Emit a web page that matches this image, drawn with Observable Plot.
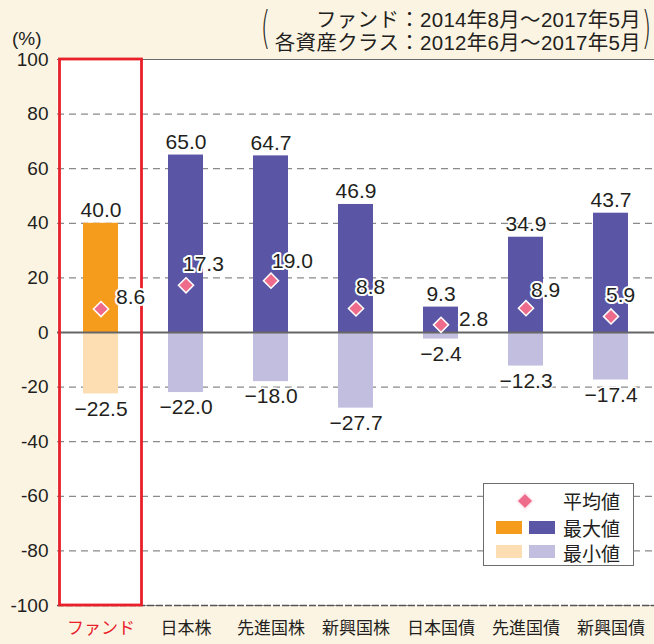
<!DOCTYPE html>
<html>
<head>
<meta charset="utf-8">
<script src="https://cdn.jsdelivr.net/npm/d3@7"></script>
<script src="https://cdn.jsdelivr.net/npm/@observablehq/plot@0.6"></script>
<style>
  html, body { margin: 0; padding: 0; background: #fcf4e3; }
  #wrap { position: relative; width: 654px; height: 644px; background: #fcf4e3; overflow: hidden;
          font-family: "Liberation Sans", "Noto Sans CJK JP", sans-serif; color: #231f20; }
  #title { position: absolute; right: 13px; top: 8px; text-align: right; font-size: 20.5px; line-height: 23px; white-space: nowrap; letter-spacing: 0.3px; }
  .paren { position: absolute; top: 5px; font-size: 44px; line-height: 46px; height: 46px; font-weight: 200; transform: scaleX(0.55); color: #231f20; font-family: "DejaVu Sans", sans-serif; }
  #legend { position: absolute; left: 483px; top: 483px; width: 151px; height: 83px; background: #fff;
            border: 1px solid #6d6d6d; box-sizing: border-box; font-family: "Noto Sans CJK JP", sans-serif; font-size: 19px; }
  .sw { position: absolute; width: 26px; height: 13px; }
  .lt { position: absolute; left: 79px; line-height: 20px; height: 20px; }
  .dia { position: absolute; width: 10px; height: 10px; background: #ef6b8c; transform: rotate(45deg); border: 1px solid #fff; }
  #pct { position: absolute; left: 12px; top: 28px; font-size: 19px; }
</style>
</head>
<body>
<div id="wrap">
  <div id="pct">(%)</div>
  <div class="paren" style="left:257px;">(</div>
  <div class="paren" style="left:638px;">)</div>
  <div id="title">ファンド：2014年8月～2017年5月<br>各資産クラス：2012年6月～2017年5月</div>
  <div id="chart"></div>
  <div id="legend">
    <div class="dia" style="left:35px; top:11px;"></div>
    <div class="lt" style="top:7px;">平均値</div>
    <div class="sw" style="left:12px; top:37px; background:#f59c1c;"></div>
    <div class="sw" style="left:45px; top:37px; background:#5a56a5;"></div>
    <div class="lt" style="top:34px;">最大値</div>
    <div class="sw" style="left:12px; top:61px; background:#fddeb3;"></div>
    <div class="sw" style="left:45px; top:61px; background:#c2bedf;"></div>
    <div class="lt" style="top:59px;">最小値</div>
  </div>
</div>
<script>
// ---- data ----
const categories = ["ファンド", "日本株", "先進国株", "新興国株", "日本国債", "先進国債", "新興国債"];
const maxValues  = [40.0, 65.0, 64.7, 46.9, 9.3, 34.9, 43.7];
const meanValues = [8.6, 17.3, 19.0, 8.8, 2.8, 8.9, 5.9];
const minValues  = [-22.5, -22.0, -18.0, -27.7, -2.4, -12.3, -17.4];
const yTicks = [100, 80, 60, 40, 20, 0, -20, -40, -60, -80, -100];
const fundName = "ファンド";

// ---- label layout (offsets of mean labels, px) ----
const meanLabelOffset = {
  "ファンド": [15, -12], "日本株": [-3, -21], "先進国株": [1, -19], "新興国株": [0, -21],
  "日本国債": [18, -6], "先進国債": [5, -18], "新興国債": [-5, -21]
};

const rows = categories.map((c, i) => ({cat: c, max: maxValues[i], mean: meanValues[i], min: minValues[i], fund: c === fundName}));
const fund = rows.filter(d => d.fund);
const others = rows.filter(d => !d.fund);

const fmt = v => (v < 0 ? "\u2212" + Math.abs(v).toFixed(1) : v.toFixed(1));
const numFont = "Liberation Sans, Noto Sans CJK JP, sans-serif";
const jpFont = "Noto Sans CJK JP, sans-serif";
const ink = "#231f20";
const red = "#e8202a";

const meanMarks = rows.map(d => Plot.text([d], {
  x: "cat", y: "mean", text: r => fmt(r.mean), textAnchor: "start",
  dx: meanLabelOffset[d.cat][0], dy: meanLabelOffset[d.cat][1],
  fontSize: 21, fill: ink, stroke: "white", strokeWidth: 4, fontFamily: numFont
}));

const chart = Plot.plot({
  width: 654, height: 644,
  marginTop: 59, marginBottom: 39, marginLeft: 57, marginRight: 0,
  style: {background: "transparent", fontFamily: numFont, color: ink, overflow: "visible"},
  x: {domain: categories, paddingInner: 0.59, paddingOuter: 0.295, axis: null},
  y: {domain: [-100, 100], axis: null},
  marks: [
    Plot.frame({fill: "white", stroke: null}),
    Plot.ruleY(yTicks.filter(t => t !== 0 && t !== 100), {stroke: "#8a8a8a", strokeDasharray: "7,5", strokeWidth: 1.2}),
    Plot.ruleY([100], {stroke: "#6a6a6a", strokeWidth: 1}),
    Plot.ruleY([-100], {stroke: "#555", strokeDasharray: "7,2", strokeWidth: 1.5}),
    // bars
    Plot.barY(fund, {x: "cat", y: "max", fill: "#f59c1c"}),
    Plot.barY(fund, {x: "cat", y: "min", fill: "#fddeb3"}),
    Plot.barY(others, {x: "cat", y: "max", fill: "#5a56a5"}),
    Plot.barY(others, {x: "cat", y: "min", fill: "#c2bedf"}),
    Plot.ruleY([0], {stroke: "#666", strokeWidth: 2}),
    // red frame around the fund
    Plot.barY(fund, {x: "cat", y1: -100, y2: 100, fill: "none", stroke: red, strokeWidth: 2.8, insetLeft: -23.5, insetRight: -23.5}),
    // value labels
    Plot.text(rows, {x: "cat", y: "max", text: d => fmt(d.max), dy: -13, fontSize: 21, fill: ink, stroke: "white", strokeWidth: 3, fontFamily: numFont}),
    Plot.text(rows, {x: "cat", y: "min", text: d => fmt(d.min), dy: 15, fontSize: 21, fill: ink, stroke: "white", strokeWidth: 3, fontFamily: numFont}),
    // mean diamonds
    Plot.dot(rows, {x: "cat", y: "mean", symbol: "diamond2", r: 6.8, fill: "#ef6b8c", stroke: "white", strokeWidth: 1.5}),
    ...meanMarks,
    // y axis labels
    Plot.text(yTicks, {y: d => d, text: d => String(d), frameAnchor: "left", textAnchor: "end", dx: -9, fontSize: 19, fill: ink, fontFamily: numFont}),
    // x axis labels
    Plot.text(others, {x: "cat", text: "cat", frameAnchor: "bottom", dy: 28, fontSize: 17, fill: ink, fontFamily: jpFont}),
    Plot.text(fund, {x: "cat", text: "cat", frameAnchor: "bottom", dy: 28, fontSize: 17, fill: red, fontFamily: jpFont})
  ]
});
document.getElementById("chart").appendChild(chart);
</script>
</body>
</html>
